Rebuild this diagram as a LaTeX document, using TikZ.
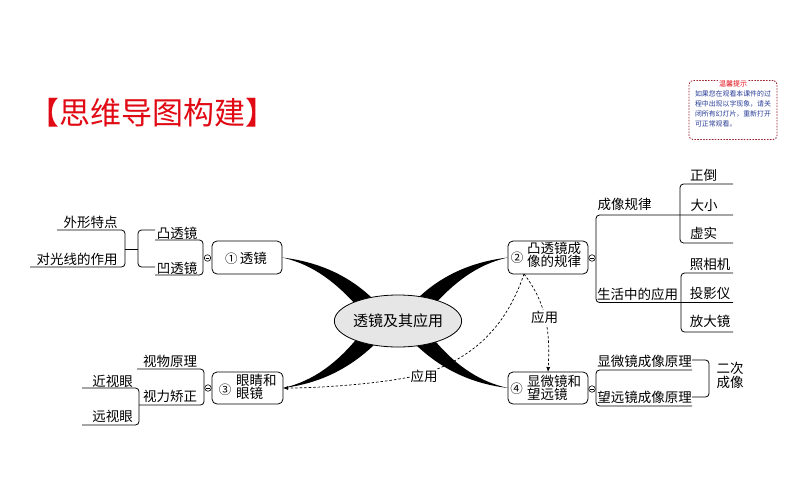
\documentclass[tikz,border=0pt]{standalone}
\usepackage{fontspec}
\setmainfont{Liberation Serif}
\newfontfamily\cjk{Noto Sans CJK SC}
\usetikzlibrary{arrows.meta,shapes.geometric}
\definecolor{titlered}{RGB}{225,10,20}
\definecolor{noteborder}{RGB}{150,30,40}
\definecolor{noteblue}{RGB}{40,60,150}
\definecolor{ellfill}{RGB}{230,230,230}
\begin{document}
\begin{tikzpicture}[x=1pt,y=-1pt,
  every node/.style={inner sep=0pt, outer sep=0pt},
  txt/.style={font=\cjk\fontsize{13.5}{13}\selectfont, text=black},
  twoline/.style={font=\cjk\fontsize{13.5}{13}\selectfont, align=left, anchor=west},
  boxn/.style={draw, line width=0.8pt, rounded corners=5pt},
  brk/.style={line width=0.8pt, rounded corners=3.5pt, draw=black},
  dashln/.style={line width=0.7pt, dash pattern=on 2.5pt off 2pt},
  numc/.style={font=\cjk\fontsize{12.5}{12.5}\selectfont},
  minusc/.style={draw, circle, line width=0.6pt, minimum size=6.5pt, fill=white},
  tipstyle/.style={-{Latex[length=5pt,width=4pt]}},
]
\fill[white] (0,0) rectangle (794,495);
\useasboundingbox (0,0) rectangle (794,495);

% title
\node[font=\cjk\fontsize{31}{31}\selectfont, text=titlered] (title) at (152,113) {【思维导图构建】};

% notice box
\node[draw=noteborder, dotted, line cap=round, line width=0.9pt, rounded corners=4pt,
      minimum width=88pt, minimum height=59pt] (note) at (733,110) {};
\node[font=\cjk\fontsize{7}{7}\selectfont, text=titlered, fill=white, inner sep=1pt] (notet) at (733,84) {温馨提示};
\node[font=\cjk\fontsize{6.9}{10}\selectfont, text=noteblue, align=left, anchor=north west] (noteb) at (695,90.5)
  {如果您在观看本课件的过\\程中出现以字现象，请关\\闭所有幻灯片，重新打开\\可正常观看。};

% main boxes
\node[boxn, minimum width=70pt, minimum height=33pt] (b1) at (247,257.5) {};
\node[txt] (b1t) at (246,258) {{\fontsize{12.5}{12.5}\selectfont ①}\,透镜};

\node[boxn, minimum width=80pt, minimum height=33pt] (b2) at (548,257.5) {};
\node[numc] (b2n) at (517,257.5) {②};
\node[twoline] (b2t) at (527,255) {凸透镜成\\像的规律};

\node[boxn, minimum width=71pt, minimum height=32pt] (b3) at (247.5,388) {};
\node[numc] (b3n) at (225,389.5) {③};
\node[twoline, font=\cjk\fontsize{13.5}{13.5}\selectfont] (b3t) at (236,387) {眼睛和\\眼镜};

\node[boxn, minimum width=80pt, minimum height=32pt] (b4) at (548,388) {};
\node[numc] (b4n) at (516.5,388.5) {④};
\node[twoline] (b4t) at (527,387.5) {显微镜和\\望远镜};

% horns
\fill (b1.east) .. controls (316,261.5) and (347,274) .. (372,298) -- (357,306)
  .. controls (337,284) and (314,264.5) .. (b1.east) -- cycle;
\fill (b2.west) .. controls (474,261.5) and (443,274) .. (418,298) -- (433,306)
  .. controls (453,284) and (476,264.5) .. (b2.west) -- cycle;
\fill (b3.east) .. controls (316,384) and (347,371) .. (375,344) -- (359,336)
  .. controls (338,362) and (314,381) .. (b3.east) -- cycle;
\fill (b4.west) .. controls (474,384) and (443,371) .. (415,344) -- (431,336)
  .. controls (452,362) and (476,381) .. (b4.west) -- cycle;

% centre
\node[draw, ellipse, fill=ellfill, line width=0.8pt, minimum width=124pt, minimum height=52pt,
      font=\cjk\fontsize{15}{15}\selectfont] (c) at (398,321) {透镜及其应用};

% branch texts
\node[txt] (waixing) at (90.5,222) {外形特点};
\node[txt] (duiguang) at (77,259) {对光线的作用};
\node[txt] (tu) at (177,233) {凸透镜};
\node[txt] (ao) at (177,268) {凹透镜};
\node[txt] (chx) at (624.5,204) {成像规律};
\node[txt] (shzh) at (637.5,294) {生活中的应用};
\node[txt] (zd) at (703.5,175) {正倒};
\node[txt] (dx) at (704,205.5) {大小};
\node[txt] (xs) at (703.5,233.5) {虚实};
\node[txt] (zx) at (710,264) {照相机};
\node[txt] (ty) at (710,293) {投影仪};
\node[txt] (fd) at (710,321) {放大镜};
\node[txt] (xw) at (644.5,361) {显微镜成像原理};
\node[txt] (wy) at (644.5,397.5) {望远镜成像原理};
\node[txt, align=center, font=\cjk\fontsize{13.5}{14}\selectfont] (ec) at (730,375.5) {二次\\成像};
\node[txt] (swyl) at (170,361) {视物原理};
\node[txt] (sljz) at (170,396.5) {视力矫正};
\node[txt] (jsy) at (112.5,381) {近视眼};
\node[txt] (ysy) at (112.5,416) {远视眼};

% brackets
\draw[brk] (57,230) -- (125,230) -- (125,267) -- (30,267);
\draw[brk] (125,249) -- (138,249);
\draw[brk] (155,230) -- (138,230) -- (138,267) -- (155,267);
\draw[brk] (155,240) -- (203,240) -- (203,275) -- (155,275);

\draw[brk] (733,184) -- (680,184) -- (680,243) -- (733,243);
\draw[brk] (733,215) -- (596,215) -- (596,302.5) -- (733,302.5);
\draw[brk] (733,273) -- (681,273) -- (681,332) -- (733,332);

\draw[brk] (692,370) -- (596,370) -- (596,406) -- (692,406);
\draw[brk] (692,360) -- (709,360) -- (709,397) -- (692,397);

\draw[brk] (137,369) -- (204,369) -- (204,405) -- (139,405);
\draw[brk] (82,388) -- (139,388) -- (139,425) -- (82,425);

% collapse circles
\foreach \n/\p in {m1/{(207.5,258)}, m2/{(592,258)}, m3/{(208,388)}, m4/{(592,389)}} {
  \node[minusc] (\n) at \p {};
  \draw[line width=0.6pt] ([xshift=-1.8pt]\n.center) -- ([xshift=1.8pt]\n.center);
}

% dashed relations
\coordinate (d0) at (524,274);
\draw[dashln, tipstyle] (d0) .. controls (505,330) and (470,360) .. (420,375)
  .. controls (380,384) and (320,388) .. (b3.east);
\node[txt, fill=white, inner sep=1pt] (yy1) at (424,376) {应用};
\draw[dashln, tipstyle] (d0) .. controls (548,305) and (550,335) .. (b4.north);
\node[txt, fill=white, inner sep=1pt] (yy2) at (544.5,317.5) {应用};
\end{tikzpicture}
\end{document}
